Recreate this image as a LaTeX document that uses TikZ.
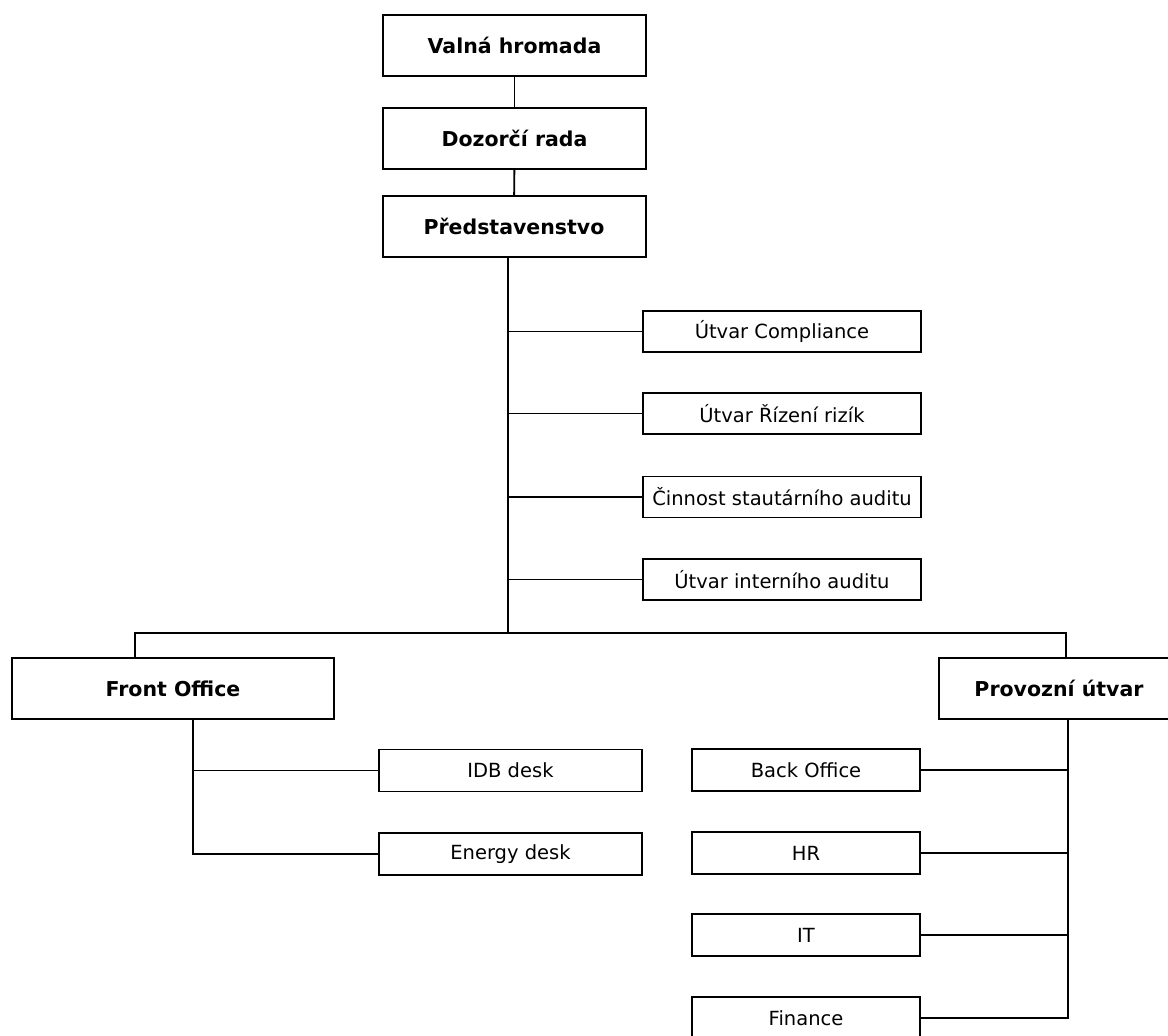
\documentclass[tikz,border=0pt]{standalone}
\usepackage{fontspec}
\setmainfont{DejaVu Sans}
\usetikzlibrary{arrows,shapes}
\tikzstyle{headbox}=[draw,line width=2pt,inner sep=0pt,minimum height=61pt,font=\fontsize{20.5}{24}\selectfont\bfseries]
\tikzstyle{unitbox}=[draw,line width=1.9pt,inner sep=0pt,minimum height=41pt,font=\fontsize{19.5}{23}\selectfont]
\tikzstyle{link}=[draw,line width=1.9pt,-]

\begin{document}
\begin{tikzpicture}[x=1pt,y=-1pt]
    \useasboundingbox (0,0) rectangle (1168,1036);
    % First the board chain on top
    \foreach \pos/\name/\txt in {{(514.5,45.5)/vh/Valná hromada}, {(514.5,138.5)/dr/Dozorčí rada}, {(514,226.5)/pr/Představenstvo}}
        \node[headbox,minimum width=263pt] (\name) at \pos {\txt};
    \draw[link] (vh) -- (dr);
    \draw[link] (dr) -- (pr);
    % Staff units along the trunk
    \coordinate (trunk) at (508,633);
    \foreach \y/\name/\txt in {331.5/comp/Útvar Compliance, 413.5/risk/Útvar Řízení rizík, 497/stat/Činnost stautárního auditu, 579.5/inaud/Útvar interního auditu}
        \node[unitbox,minimum width=278pt] (\name) at (782,\y) {\txt};
    \draw[link] (pr.south -| trunk) -- (trunk);
    \foreach \name in {comp,risk,stat,inaud}
        \path[link] (\name.west -| trunk) -- (\name.west);

    % The two divisions under the bus
    \node[headbox,minimum width=322pt] (fo) at (173,688.5) {Front Office};
    \node[headbox,minimum width=240pt] (pu) at (1059,688.5) {Provozní útvar};
    \coordinate (busL) at (135,633);
    \coordinate (busR) at (1066,633);
    \draw[link] (busL |- fo.north) -- (busL) -- (busR) -- (busR |- pu.north);

    % Front office desks
    \coordinate (foT) at (193,719);
    \foreach \y/\name/\txt in {770.5/idb/IDB desk, 854/energy/Energy desk}
        \node[unitbox,minimum width=263pt,minimum height=42pt] (\name) at (510.5,\y) {\txt};
    \draw[link] (fo.south -| foT) -- (energy.west -| foT) -- (energy.west);
    \draw[link] (idb.west -| foT) -- (idb.west);

    % Units of the operations division
    \coordinate (puT) at (1068,719);
    \foreach \y/\name/\txt in {770/back/Back Office, 853/hr/HR, 935/it/IT, 1018/fin/Finance}
        \node[unitbox,minimum width=228pt,minimum height=42pt] (\name) at (806,\y) {\txt};
    \draw[link] (pu.south -| puT) -- (fin.east -| puT) -- (fin.east);
    \foreach \name in {back,hr,it}
        \path[link] (\name.east) -- (\name.east -| puT);
\end{tikzpicture}
\end{document}
